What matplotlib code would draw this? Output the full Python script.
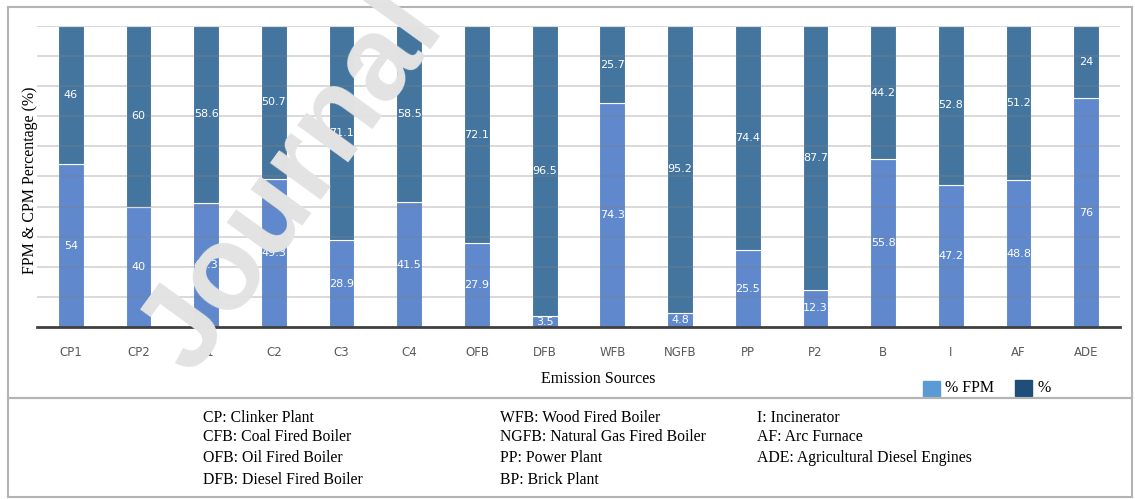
import numpy as np
import matplotlib.pyplot as plt
from matplotlib.patches import Rectangle

sources = ['CP1', 'CP2', 'C1', 'C2', 'C3', 'C4', 'OFB', 'DFB', 'WFB', 'NGFB',
           'PP', 'P2', 'B', 'I', 'AF', 'ADE']
fpm = [54, 40, 41.3, 49.3, 28.9, 41.5, 27.9, 3.5, 74.3, 4.8, 25.5, 12.3, 55.8, 47.2, 48.8, 76]
cpm = [46, 60, 58.6, 50.7, 71.1, 58.5, 72.1, 96.5, 25.7, 95.2, 74.4, 87.7, 44.2, 52.8, 51.2, 24]

key_cols = [
    ['CP: Clinker Plant', 'CFB: Coal Fired Boiler', 'OFB: Oil Fired Boiler', 'DFB: Diesel Fired Boiler'],
    ['WFB: Wood Fired Boiler', 'NGFB: Natural Gas Fired Boiler', 'PP: Power Plant', 'BP: Brick Plant'],
    ['I: Incinerator', 'AF: Arc Furnace', 'ADE: Agricultural Diesel Engines'],
]

serif = ['Liberation Serif', 'DejaVu Serif']
sans = ['DejaVu Sans']
c_fpm = '#6088cd'
c_cpm = '#44759f'

W, H = 1135, 499
fig = plt.figure(figsize=(W / 100, H / 100), dpi=100)
ax = fig.add_axes([37 / W, 1 - 327 / H, 1083 / W, 301 / H])

x = np.arange(len(sources))
w = 0.38
ax.bar(x, fpm, w, color=c_fpm, edgecolor='white', linewidth=0.8, zorder=2)
ax.bar(x, cpm, w, bottom=fpm, color=c_cpm, edgecolor='white', linewidth=0.8, zorder=2)

for i in range(len(sources)):
    ax.text(x[i], fpm[i] / 2, f'{fpm[i]:g}', ha='center', va='center', color='white',
            fontsize=8, family=sans, zorder=4)
    ax.text(x[i], fpm[i] + cpm[i] / 2, f'{cpm[i]:g}', ha='center', va='center', color='white',
            fontsize=8, family=sans, zorder=4)

ax.set_xlim(-0.5, len(sources) - 0.5)
ax.set_ylim(0, 100)
ax.set_yticks(np.arange(10, 101, 10))
ax.yaxis.grid(True, color='#808080', alpha=0.35, linewidth=1.2, zorder=3)
ax.set_axisbelow(False)
ax.tick_params(axis='y', left=False, labelleft=False)
ax.set_xticks(x)
ax.set_xticklabels(sources, family=sans, fontsize=8.5, color='#595959')
ax.tick_params(axis='x', length=0, pad=14)
for s in ['top', 'right', 'left']:
    ax.spines[s].set_visible(False)
ax.spines['bottom'].set_color('#404040')
ax.spines['bottom'].set_linewidth(2)
ax.spines['bottom'].set_zorder(5)

fig.text(30 / W, 1 - 180 / H, 'FPM & CPM Percentage (%)', family=serif, fontsize=11.5,
         rotation=90, ha='center', va='center')
fig.text(598 / W, 1 - 379 / H, 'Emission Sources', family=serif, fontsize=11.5,
         ha='center', va='center')

# legend
fig.patches.append(Rectangle((923 / W, 1 - 397 / H), 17 / W, 16 / H,
                             transform=fig.transFigure, color='#5b9bd5'))
fig.text(945 / W, 1 - 388 / H, '% FPM', family=serif, fontsize=11.5, va='center')
fig.patches.append(Rectangle((1015 / W, 1 - 396 / H), 17 / W, 16 / H,
                             transform=fig.transFigure, color='#1f4e79'))
fig.text(1038 / W, 1 - 388 / H, '%', family=serif, fontsize=11.5, va='center')

# frames around chart and key
fig.patches.append(Rectangle((8 / W, 1 - 398 / H), 1124 / W, 391 / H,
                             transform=fig.transFigure, fill=False, edgecolor='#b4b4b4', linewidth=1.5))
fig.patches.append(Rectangle((8 / W, 1 - 497 / H), 1124 / W, 99 / H,
                             transform=fig.transFigure, fill=False, edgecolor='#b4b4b4', linewidth=1.5))

col_x = [203, 500, 757]
row_y = [418, 437, 458, 480]
for cx, col in zip(col_x, key_cols):
    for ry, line in zip(row_y, col):
        fig.text(cx / W, 1 - ry / H, line, family=serif, fontsize=11.3, va='center')

fig.text(294 / W, 1 - 184 / H, 'Journal', family=['Liberation Sans', 'DejaVu Sans'], fontsize=86,
         fontweight='bold', color='#e3e3e3', rotation=54, ha='center', va='center',
         rotation_mode='anchor', zorder=10)

fig.savefig('out.png', dpi=100)
